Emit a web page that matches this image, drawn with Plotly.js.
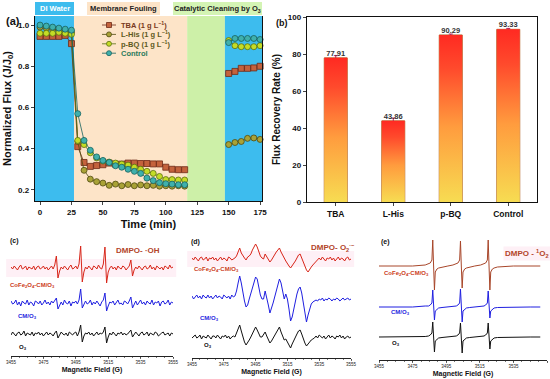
<!DOCTYPE html>
<html><head><meta charset="utf-8">
<script src="https://cdn.plot.ly/plotly-3.0.1.min.js"></script>
<style>html,body{margin:0;padding:0;background:#fff}#chart{width:550px;height:379px}</style>
</head><body><div id="chart"></div>
<script>
// ---------------- Panel (a): normalized flux ----------------
const seriesNames = ['TBA (1 g L<sup>−1</sup>)', 'L-His (1 g L<sup>−1</sup>)', 'p-BQ (1 g L<sup>−1</sup>)', 'Control'];
const timeDI   = [0,5,10,15,20,25];
const timeFoul = [30,35,40,45,50,55,60,65,70,75,80,85,90,95,100,105,110,115];
const timeRec  = [150,155,160,165,170,175];
const tbaDI   = [0.945,0.945,0.945,0.945,0.95,0.91];
const tbaFoul = [0.41,0.333,0.314,0.318,0.322,0.33,0.325,0.325,0.33,0.33,0.328,0.328,0.326,0.326,0.31,0.30,0.298,0.298];
const tbaRec  = [0.765,0.775,0.79,0.79,0.792,0.80];
const lhisDI   = [0.99,0.985,0.98,0.975,0.97,0.965];
const lhisFoul = [0.435,0.295,0.252,0.24,0.233,0.222,0.228,0.22,0.226,0.22,0.224,0.22,0.222,0.218,0.22,0.218,0.22,0.218];
const lhisRec  = [0.42,0.43,0.435,0.45,0.452,0.445];
const pbqDI   = [0.96,0.96,0.96,0.965,0.96,0.955];
const pbqFoul = [0.44,0.42,0.38,0.355,0.34,0.335,0.33,0.325,0.32,0.31,0.30,0.29,0.28,0.265,0.25,0.25,0.248,0.248];
const pbqRec  = [0.925,0.90,0.895,0.895,0.895,0.90];
const ctrlDI   = [1.0,0.995,0.99,0.985,0.98,0.975];
const ctrlFoul = [0.57,0.44,0.392,0.36,0.343,0.333,0.317,0.31,0.30,0.29,0.28,0.257,0.245,0.235,0.23,0.228,0.225,0.225];
const ctrlRec  = [0.915,0.935,0.935,0.935,0.935,0.93];
const phaseLabels = ['DI Water','Membrane Fouling','Catalytic Cleaning by O<sub>3</sub>'];

// ---------------- Panel (b): flux recovery rate ----------------
const catsB  = ['TBA','L-His','p-BQ','Control'];
const frr    = [77.91, 43.86, 90.29, 93.33];
const frrErr = [1.2, 1.5, 0.5, 0.5];

// ---------------- Panels (c)(d)(e): EPR spectra ----------------
const sampleNames = ['CoFe<sub>2</sub>O<sub>4</sub>-CM/O<sub>3</sub>','CM/O<sub>3</sub>','O<sub>3</sub>'];
const eprTitles = ['DMPO- ·OH','DMPO- O<sub>2</sub><sup>·−</sup>','DMPO - <sup>1</sup>O<sub>2</sub>'];
const eprTicks = [3455,3475,3495,3515,3535,3555];
const fieldStart = 3455;   // 1 G steps for (c) and (d)
const cRed = [1,-1,2,0,-2,1,3,-1,0,2, -2,1,0,-1,2,-2,1,2,-1,0, 2,-1,1,-2,0,2,-1,3,12,-10,
  -3,1,-1,2,0,-2,1,3,-1,0, 2,-1,4,22,-14,-4,1,-1,2,0, -2,2,1,-1,3,0,-1,4,21,-15,
  -4,0,2,-1,1,-2,2,0,-1,2, 1,-2,0,2,8,-8,-2,1,-1,2, 0,-2,1,2,-1,0,3,-1,1,-2, 2,0,-1,1,-2,2,1,-1,3,0, 1];
const cBlue = [2,-1,0,3,-2,1,-3,2,0,-1, 3,-2,1,0,-3,2,1,-1,2,-2, 0,3,-1,1,-2,2,0,2,5,-6,
  -2,1,-2,3,0,-1,2,-3,1,0, 2,-1,3,14,-5,-2,2,-1,0,3, -2,1,-1,2,0,-3,1,3,10,-8,
  -3,1,0,2,-2,1,3,-1,0,-2, 2,1,-1,2,6,-5,-1,2,-2,0, 3,-1,1,-2,2,0,-1,3,-2,1, 0,2,-3,1,2,-1,0,3,-2,1, 0];
const cBlack = [-1,2,0,-2,1,2,-1,0,3,-2, 1,0,-1,2,-2,1,0,2,-1,1, -2,0,2,-1,1,0,-2,1,3,-4,
  -1,2,0,-1,1,-2,2,0,-1,1, 2,-2,2,9,-8,-2,1,0,2,-1, 1,-2,0,2,-1,1,0,2,7,-9,
  -3,1,-1,2,0,-2,1,0,2,-1, 1,-1,0,2,4,-3,-1,2,0,-2, 1,2,-1,0,2,-2,1,0,-1,2, 1,-2,0,1,2,-1,0,1,-2,1, 0];
const dRed = [1,-1,2,0,-2,1,2,-1,0,2, -2,1,0,2,-1,1,-2,0,2,-1, 1,0,-2,2,1,-1,0,1,3,7,
  11,6,3,1,-1,2,3,5,9,13, 15,12,7,3,1,0,5,2,-1,-3, -1,2,4,7,9,11,7,3,1,-2,
  -5,-7,-9,-7,-4,-2,1,4,5,1, -4,-7,-11,-13,-10,-8,-6,-4,-2,-1, 1,-1,2,0,-2,1,0,2,-1,1, -2,0,2,-1,1,0,-2,1,2,-1, 0];
const dBlue = [1,-2,0,2,-1,1,-2,2,0,-1, 2,-1,1,-2,0,2,-1,1,0,-2, 2,0,-1,1,-2,2,0,1,6,14,
  21,14,4,-4,-10,-8,-2,4,10,15, 20,18,10,2,-2,-2,6,0,-8,-16, -12,-6,0,6,12,18,14,6,-2,3,
  -2,-12,-24,-20,-12,-4,3,8,10,4, -6,-16,-25,-18,-12,-7,-5,-4,-3,-4, -2,-3,-1,-4,-2,-3,-1,-2,-4,-2, -3,-1,-2,-4,-2,-1,-3,-2,-1,-3, -2];
const dBlack = [-1,1,2,-1,0,2,-2,1,0,-1, 2,0,-2,1,1,-1,2,0,-2,1, 0,2,-1,1,-2,0,1,0,4,9,
  12,6,0,-5,-8,-6,-3,0,3,7, 10,7,3,0,0,3,5,1,-3,-6, -4,-1,1,4,7,10,5,1,-3,-2,
  -5,-8,-11,-7,-3,0,3,6,7,3, -2,-6,-9,-7,-4,-3,-2,-1,1,-1, 2,0,-1,1,-2,0,2,-1,1,0, -2,1,0,2,-1,1,-2,0,1,-1, 0];
const eField = [3455,3465,3475,3482.5,3484.5,3485.5,3486.5,3487,3487.5,3488,3488.5,3489.5,3490.5,3492.5,3496,
  3499,3501,3502,3503,3503.5,3504,3504.5,3505,3506,3507,3509,3512,
  3515.5,3517.5,3518.5,3519.5,3520,3520.5,3521,3521.5,3522.5,3523.5,3525.5,3535,3545,3551];
const eRed   = [0,0,0, 1,2,3,6,26,0,-24,-6,-3,-2,-1, 0, 1,2,3,6,25,0,-22,-6,-3,-2,-1, 0, 1,2,3,6,26,0,-24,-6,-3,-2,-1, 0,0,0];
const eBlue  = [0,0,0, 1,1,2,4,17,0,-13,-4,-2,-1,-0.5, 0, 0.5,1,2,4,18,0,-15,-4,-2,-1,-0.5, 0, 0.5,1,2,4,16,0,-11,-4,-2,-1,-0.5, 0,0,0];
const eBlack = [0,0,0, 0.5,1,2,4,15,0,-15,-4,-2,-1,-0.5, 0, 0.5,1,2,4,14,0,-16,-4,-2,-1,-0.5, 0, 0.5,1,2,4,14,0,-12,-4,-2,-1,-0.5, 0,0,0];

// ================= build =================
const FONT = 'Liberation Sans, Arial, sans-serif';
const W = 550, H = 379;
const px = v => v / W, py = v => 1 - v / H;
const traces = [], shapes = [], ann = [];

// ---- panel a
const aSeries = [
  {di:tbaDI, f:tbaFoul, r:tbaRec, sym:'square', fill:'#c4623c', edge:'#6e2a16', txt:'#7a3a20'},
  {di:lhisDI, f:lhisFoul, r:lhisRec, sym:'circle', fill:'#a9a236', edge:'#4f4a10', txt:'#5e5a1c'},
  {di:pbqDI, f:pbqFoul, r:pbqRec, sym:'circle', fill:'#c4dc26', edge:'#5a7010', txt:'#5e5a1c'},
  {di:ctrlDI, f:ctrlFoul, r:ctrlRec, sym:'circle', fill:'#3fb0ac', edge:'#17625e', txt:'#2a7a5a'}
];
aSeries.forEach((s, k) => {
  traces.push({type:'scatter', mode:'lines+markers', xaxis:'x', yaxis:'y', showlegend:false,
    x: timeDI.concat(timeFoul, [null], timeRec), y: s.di.concat(s.f, [null], s.r),
    connectgaps:false, cliponaxis:false, line:{color:s.edge, width:0.8},
    marker:{symbol:s.sym, size:6, color:s.fill, line:{color:s.edge, width:0.8}}});
  const ly = 25 + k * 9.4;
  shapes.push({type:'line', xref:'paper', yref:'paper', x0:px(102), x1:px(116), y0:py(ly), y1:py(ly), line:{color:s.edge, width:0.8}});
  shapes.push({type:s.sym === 'square' ? 'rect' : 'circle', xref:'paper', yref:'paper', x0:px(106.5), x1:px(111.5), y0:py(ly+2.5), y1:py(ly-2.5), fillcolor:s.fill, line:{color:s.edge, width:0.8}});
  ann.push({xref:'paper', yref:'paper', x:px(119), y:py(ly), xanchor:'left', yanchor:'middle', showarrow:false,
    text:'<b>'+seriesNames[k]+'</b>', font:{size:7.5, color:s.txt, family:FONT}});
});
const phaseRegions = [[-4,27,'#3dbcee'],[27,117,'#fde4c8'],[117,147,'#cdf0a8'],[147,176.5,'#3dbcee']];
phaseRegions.forEach(r => shapes.push({type:'rect', xref:'x', yref:'y domain', x0:r[0], x1:r[1], y0:0, y1:1, fillcolor:r[2], line:{width:0}, layer:'below'}));
const headers = [[35,74,'#3dbcee','#ffffff'],[87,160,'#fde4c8','#222'],[173,262,'#d4f4b4','#222']];
headers.forEach((h, k) => {
  shapes.push({type:'rect', xref:'paper', yref:'paper', x0:px(h[0]), x1:px(h[1]), y0:py(15), y1:py(2), fillcolor:h[2], line:{width:0}});
  ann.push({xref:'paper', yref:'paper', x:px((h[0]+h[1])/2), y:py(8.5), showarrow:false, xanchor:'center', yanchor:'middle',
    text:'<b>'+phaseLabels[k]+'</b>', font:{size:7.5, color:h[3], family:FONT}});
});

// ---- panel b
const bx = catsB.map((c, i) => i);
const bw = 0.4;
frr.forEach((v, i) => {
  traces.push({type:'scatter', mode:'none', xaxis:'x2', yaxis:'y2', showlegend:false, hoverinfo:'skip',
    x:[i-bw/2, i+bw/2, i+bw/2, i-bw/2, i-bw/2], y:[0,0,v,v,0], fill:'toself',
    fillgradient:{type:'vertical', colorscale:[[0,'#f7dc52'],[0.45,'#ff9c3e'],[0.8,'#ff4a2c'],[1,'#ff2a22']]}});
});
traces.push({type:'bar', xaxis:'x2', yaxis:'y2', showlegend:false, x:bx, y:frr, width:bw,
  marker:{color:'rgba(0,0,0,0)', line:{color:'#b26a2e', width:1},
    pattern:{shape:'/', fgcolor:'rgba(175,120,40,0.35)', bgcolor:'rgba(0,0,0,0)', size:4, solidity:0.15}},
  error_y:{type:'data', array:frrErr, visible:true, color:'#b0205a', thickness:1, width:2}});
traces.push({type:'scatter', mode:'text', xaxis:'x2', yaxis:'y2', showlegend:false, x:bx, y:frr,
  text:frr.map(v => '<b>'+v.toFixed(2)+'</b>'), textposition:'top center', cliponaxis:false,
  textfont:{size:7.5, color:'#333', family:FONT}});

// ---- panels c, d, e
const gridField = cRed.map((v, i) => fieldStart + i);
const eprPanels = [
  {ax:'3', x:gridField, sets:[cRed,cBlue,cBlack], off:[88,53,22], red:'#d8261a', band:9},
  {ax:'4', x:gridField, sets:[dRed,dBlue,dBlack], off:[99,61,21], red:'#d8261a', band:8},
  {ax:'5', x:eField,    sets:[eRed,eBlue,eBlack], off:[94,53,23], red:'#a8462a', band:0}
];
const eprColors = [null,'#1f1fe0','#111111'];
eprPanels.forEach(p => {
  if (p.band) shapes.push({type:'rect', xref:'x'+p.ax+' domain', yref:'y'+p.ax, x0:-0.03, x1:1.02,
    y0:p.off[0]-p.band, y1:p.off[0]+p.band, fillcolor:'#fef0f6', line:{width:0}, layer:'below'});
  p.sets.forEach((arr, k) => {
    traces.push({type:'scatter', mode:'lines', xaxis:'x'+p.ax, yaxis:'y'+p.ax, showlegend:false,
      x:p.x, y:arr.map(v => v + p.off[k]), line:{color:k===0 ? p.red : eprColors[k], width:1}});
  });
});
const eprLab = [
  {tag:'(c)', tagXY:[8,241], title:[138,250], s:[[8,285],[16,316],[17,347]]},
  {tag:'(d)', tagXY:[189,242], title:[333,247], s:[[192,269],[198,318],[202,345]]},
  {tag:'(e)', tagXY:[379,242], title:[527,253], s:[[382,273],[389,312],[390,343]]}
];
const sColors = ['#cc3a20','#1f1fe0','#111'];
eprLab.forEach((L, j) => {
  ann.push({xref:'paper', yref:'paper', x:px(L.tagXY[0]), y:py(L.tagXY[1]), xanchor:'left', yanchor:'middle', showarrow:false,
    text:'<b>'+L.tag+'</b>', font:{size:7, color:'#111', family:FONT}});
  ann.push({xref:'paper', yref:'paper', x:px(L.title[0]), y:py(L.title[1]), xanchor:'center', yanchor:'middle', showarrow:false,
    text:'<b>'+eprTitles[j]+'</b>', font:{size:8, color:'#b3452a', family:FONT}, bgcolor: j===2 ? '#fef0f6' : 'rgba(0,0,0,0)'});
  L.s.forEach((pt, k) => ann.push({xref:'paper', yref:'paper', x:px(pt[0]), y:py(pt[1]), xanchor:'left', yanchor:'middle', showarrow:false,
    text:'<b>'+sampleNames[k]+'</b>', font:{size:6, color:sColors[k], family:FONT}}));
});
ann.push({xref:'paper', yref:'paper', x:px(4), y:py(21), xanchor:'left', yanchor:'middle', showarrow:false, text:'<b>(a)</b>', font:{size:11, color:'#111', family:FONT}});
ann.push({xref:'paper', yref:'paper', x:px(274), y:py(23), xanchor:'left', yanchor:'middle', showarrow:false, text:'<b>(b)</b>', font:{size:9, color:'#111', family:FONT}});

const eprAxis = (d0, d1) => ({domain:[px(d0), px(d1)], range:[3455,3555], tickvals:eprTicks, ticks:'outside', ticklen:2, tickwidth:0.8,
  showline:true, linecolor:'#222', linewidth:1, showgrid:false, zeroline:false, tickfont:{size:4.5, family:FONT, color:'#222'},
  minor:{tick0:3455, dtick:5, ticks:'outside', ticklen:1.2, tickwidth:0.6, tickcolor:'#222'},
  title:{text:'<b>Magnetic Field (G)</b>', font:{size:7, family:FONT, color:'#111'}, standoff:2}});
const eprY = (bot) => ({domain:[py(bot), py(226)], range:[0, bot-226], visible:false, showline:false, zeroline:false, showgrid:false, fixedrange:true});

const layout = {
  width:W, height:H, margin:{l:0,r:0,t:0,b:0}, paper_bgcolor:'#fff', plot_bgcolor:'rgba(0,0,0,0)',
  font:{family:FONT, color:'#111'}, showlegend:false,
  xaxis:{domain:[px(35), px(262)], range:[-4,176.5], tickvals:[0,25,50,75,100,125,150,175], ticks:'outside', ticklen:3,
    showline:true, linecolor:'#111', linewidth:1.3, showgrid:false, zeroline:false,
    tickfont:{size:8, family:FONT, color:'#111', weight:'bold'},
    title:{text:'<b>Time (min)</b>', font:{size:11, family:FONT}, standoff:4}},
  yaxis:{domain:[py(201), py(16)], range:[0.146,1.044], tickvals:[0.2,0.4,0.6,0.8,1.0], tickformat:'.1f', ticks:'outside', ticklen:3,
    showline:true, linecolor:'#111', linewidth:1.3, mirror:true, showgrid:false, zeroline:false,
    tickfont:{size:8, family:FONT, color:'#111', weight:'bold'},
    title:{text:'<b>Normalized Flux (J/J<sub>0</sub>)</b>', font:{size:11, family:FONT}, standoff:4}},
  xaxis2:{anchor:'y2', domain:[px(307), px(537)], range:[-0.5,3.5], tickvals:bx, ticktext:catsB.map(c=>'<b>'+c+'</b>'), ticks:'outside', ticklen:3,
    showline:true, linecolor:'#111', linewidth:1.3, mirror:true, showgrid:false, zeroline:false,
    tickfont:{size:8.5, family:FONT, color:'#111'}},
  yaxis2:{anchor:'x2', domain:[py(202), py(17)], range:[0,100], dtick:20, ticks:'outside', ticklen:3,
    showline:true, linecolor:'#111', linewidth:1.3, mirror:true, showgrid:false, zeroline:false,
    tickfont:{size:8, family:FONT, color:'#111', weight:'bold'},
    title:{text:'<b>Flux Recovery Rate (%)</b>', font:{size:10, family:FONT}, standoff:5}},
  xaxis3:Object.assign(eprAxis(11,173), {anchor:'y3'}), yaxis3:Object.assign(eprY(356), {anchor:'x3'}),
  xaxis4:Object.assign(eprAxis(192,351), {anchor:'y4'}), yaxis4:Object.assign(eprY(358), {anchor:'x4'}),
  xaxis5:Object.assign(eprAxis(379,547), {anchor:'y5'}), yaxis5:Object.assign(eprY(360), {anchor:'x5'}),
  shapes:shapes, annotations:ann
};
Plotly.newPlot('chart', traces, layout, {staticPlot:true, displayModeBar:false});
</script></body></html>
